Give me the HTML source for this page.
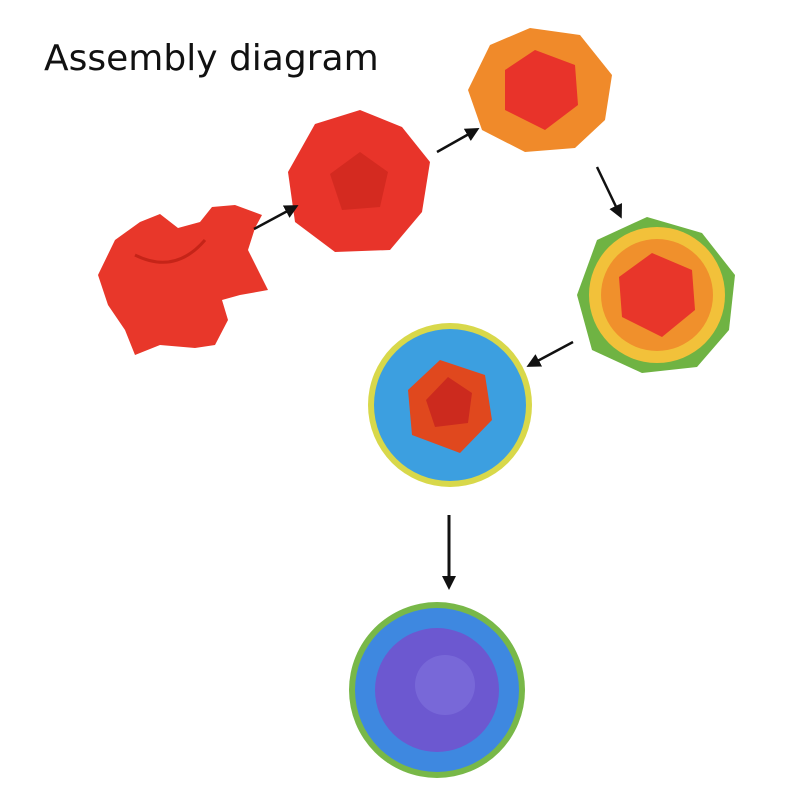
<!DOCTYPE html>
<html><head><meta charset="utf-8"><style>
html,body{margin:0;padding:0;background:#fff}
svg{display:block}
</style></head><body>
<svg width="800" height="800" viewBox="0 0 800 800" xmlns="http://www.w3.org/2000/svg">
<defs>
<marker id="ah2" markerWidth="14" markerHeight="14" refX="10" refY="7" orient="auto" markerUnits="userSpaceOnUse">
<path d="M0,0 L14,7 L0,14 z" fill="#111"/>
</marker>
</defs>
<text x="44" y="70" font-family="DejaVu Sans, sans-serif" font-size="36" fill="#111">Assembly diagram</text>

<!-- piece 1 -->
<polygon points="98,275 115,240 140,222 160,214 178,228 200,222 212,207 235,205 262,215 255,228 248,250 262,278 268,290 240,295 222,300 228,320 215,345 195,348 160,345 135,355 125,330 108,305" fill="#e8372a"/>
<path d="M135,255 Q175,275 205,240" stroke="#c52418" stroke-width="3" fill="none"/>

<!-- piece 2 -->
<g transform="translate(360,182)">
<polygon points="0,-72 42,-55 70,-20 62,30 30,68 -25,70 -65,40 -72,-10 -45,-58" fill="#e8342a"/>
<polygon points="0,-30 28,-10 20,25 -18,28 -30,-8" fill="#d42a20"/>
</g>

<!-- piece 3 -->
<g transform="translate(540,90)">
<polygon points="-10,-62 40,-55 72,-15 65,30 35,58 -15,62 -58,40 -72,0 -50,-45" fill="#f08a2a"/>
<polygon points="-5,-40 35,-25 38,15 5,40 -35,20 -35,-20" fill="#e8332a"/>
</g>

<!-- piece 4 -->
<g transform="translate(657,295)">
<polygon points="-10,-78 45,-62 78,-20 72,35 40,72 -15,78 -65,55 -80,0 -60,-55" fill="#6fb343"/>
<circle r="68" fill="#f2c13a"/>
<circle r="56" fill="#f0902c"/>
<polygon points="-5,-42 35,-25 38,15 5,42 -35,22 -38,-18" fill="#e8362a"/>
</g>

<!-- piece 5 -->
<g transform="translate(450,405)">
<circle r="82" fill="#d8d84a"/>
<circle r="76" fill="#3c9fe0"/>
<polygon points="-10,-45 35,-30 42,15 10,48 -38,30 -42,-15" fill="#e0481e"/>
<polygon points="-2,-28 22,-12 18,18 -15,22 -24,-5" fill="#cc2a1e"/>
</g>

<!-- piece 6 -->
<g transform="translate(437,690)">
<circle r="88" fill="#78b848"/>
<circle r="82" fill="#3e88e0"/>
<circle r="62" fill="#6c58d0"/>
<circle cx="8" cy="-5" r="30" fill="#7868d8"/>
</g>

<!-- arrows -->
<line x1="254" y1="229" x2="295" y2="207" stroke="#111" stroke-width="2.5" marker-end="url(#ah2)"/>
<line x1="437" y1="152" x2="476" y2="130" stroke="#111" stroke-width="2.5" marker-end="url(#ah2)"/>
<line x1="597" y1="167" x2="620" y2="215" stroke="#111" stroke-width="2.5" marker-end="url(#ah2)"/>
<line x1="573" y1="342" x2="530" y2="365" stroke="#111" stroke-width="2.5" marker-end="url(#ah2)"/>
<line x1="449" y1="515" x2="449" y2="586" stroke="#111" stroke-width="3" marker-end="url(#ah2)"/>
</svg>
</body></html>
